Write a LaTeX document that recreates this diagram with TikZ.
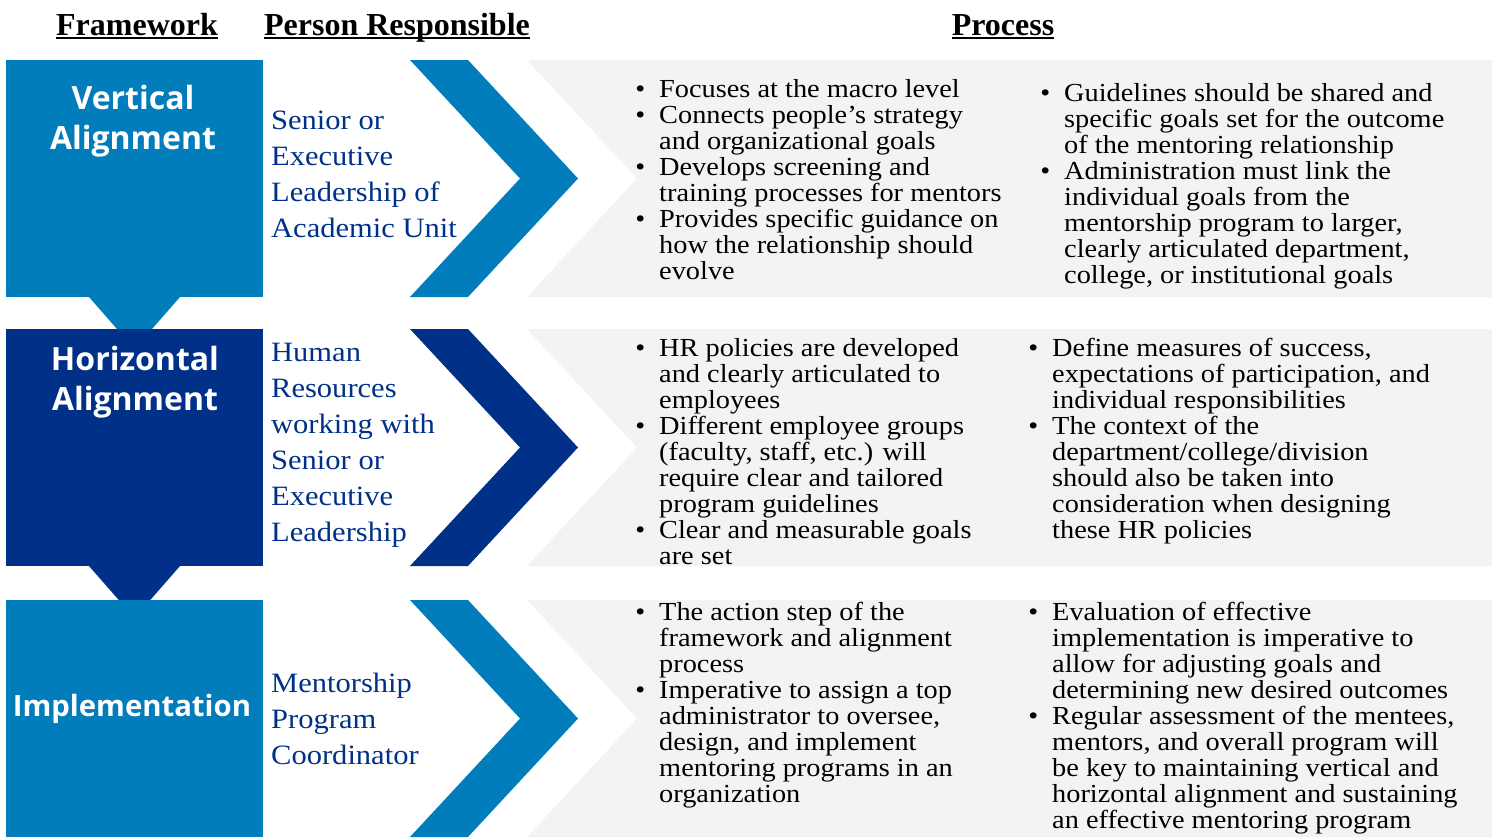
\documentclass[tikz,border=0pt]{standalone}
\usepackage{fontspec}
\setmainfont{Liberation Serif}[FakeStretch=1.09]
\newfontfamily\headfont{Liberation Serif}
\newfontfamily\labelfont{Open Sans}
\definecolor{lightblue}{RGB}{0,125,186}
\definecolor{darkblue}{RGB}{0,48,135}
\definecolor{processgray}{RGB}{244,242,243}
% underlined column heading
\newcommand{\hd}[1]{\setbox0\hbox{#1}\rlap{\rule[-4pt]{\wd0}{2pt}}\box0}
% hanging bullet
\newcommand{\bl}{\llap{\textbullet\hspace{14pt}}}

\begin{document}
\begin{tikzpicture}[x=1pt,y=-1pt,
  header/.style={anchor=base, font=\headfont\fontsize{32}{36}\selectfont\bfseries},
  framelabel/.style={text=white, align=center, font=\labelfont\fontsize{32}{40}\selectfont\bfseries},
  person/.style={text=darkblue, anchor=west, align=left, inner sep=0pt, font=\fontsize{28}{36}\selectfont},
  bullets/.style={anchor=north west, align=left, inner sep=0pt, font=\fontsize{26}{26}\selectfont}]
  \useasboundingbox (0,0) rectangle (1492,838);

  % pointers between the framework boxes
  \fill[lightblue] (89,297) -- (180,297) -- (134.5,349) -- cycle;
  \fill[darkblue] (89,566) -- (180,566) -- (134.5,618) -- cycle;

  % framework box, chevron and process band of each row
  \foreach \t/\c in {60/lightblue, 329/darkblue, 600/lightblue} {
    \fill[\c] (6,\t) rectangle (263,\t+237);
    \fill[\c] (410,\t) -- (468,\t) -- (578,\t+118.5) -- (468,\t+237)
      -- (410,\t+237) -- (520,\t+118.5) -- cycle;
    \fill[processgray] (527,\t) -- (1492,\t) -- (1492,\t+237) -- (527,\t+237)
      -- (637,\t+118.5) -- cycle;
  }

  % column headings
  \node[header] (hframe) at (137,35) {\hd{Framework}};
  \node[header] (hperson) at (397,35) {\hd{Person Responsible}};
  \node[header] (hprocess) at (1003,35) {\hd{Process}};

  % framework
  \node[framelabel] (vert) at (133,121) {Vertical\\Alignment};
  \node[framelabel] (horiz) at (135,382) {Horizontal\\Alignment};
  \node[framelabel, font=\labelfont\fontsize{29.3}{40}\selectfont\bfseries] (impl) at (132,709) {Implementation};

  % person responsible
  \node[person] (senior) at (271,174) {Senior or\\Executive\\Leadership of\\Academic Unit};
  \node[person] (hr) at (271,445) {Human\\Resources\\working with\\Senior or\\Executive\\Leadership};
  \node[person] (coord) at (271,719) {Mentorship\\Program\\Coordinator};

  % process
  \node[bullets] (vertA) at (659,79) {\bl Focuses at the macro level\\
    \bl Connects people’s strategy\\and organizational goals\\
    \bl Develops screening and\\training processes for mentors\\
    \bl Provides specific guidance on\\how the relationship should\\evolve};
  \node[bullets] (vertB) at (1064,83) {\bl Guidelines should be shared and\\
    specific goals set for the outcome\\of the mentoring relationship\\
    \bl Administration must link the\\individual goals from the\\
    mentorship program to larger,\\clearly articulated department,\\
    college, or institutional goals};
  \node[bullets] (horizA) at (659,338) {\bl HR policies are developed\\
    and clearly articulated to\\employees\\
    \bl Different employee groups\\(faculty, staff, etc.) will\\
    require clear and tailored\\program guidelines\\
    \bl Clear and measurable goals\\are set};
  \node[bullets] (horizB) at (1052,338) {\bl Define measures of success,\\
    expectations of participation, and\\individual responsibilities\\
    \bl The context of the\\department/college/division\\
    should also be taken into\\consideration when designing\\these HR policies};
  \node[bullets] (implA) at (659,602) {\bl The action step of the\\
    framework and alignment\\process\\
    \bl Imperative to assign a top\\administrator to oversee,\\
    design, and implement\\mentoring programs in an\\organization};
  \node[bullets] (implB) at (1052,602) {\bl Evaluation of effective\\
    implementation is imperative to\\allow for adjusting goals and\\
    determining new desired outcomes\\
    \bl Regular assessment of the mentees,\\mentors, and overall program will\\
    be key to maintaining vertical and\\horizontal alignment and sustaining\\
    an effective mentoring program};
\end{tikzpicture}
\end{document}
